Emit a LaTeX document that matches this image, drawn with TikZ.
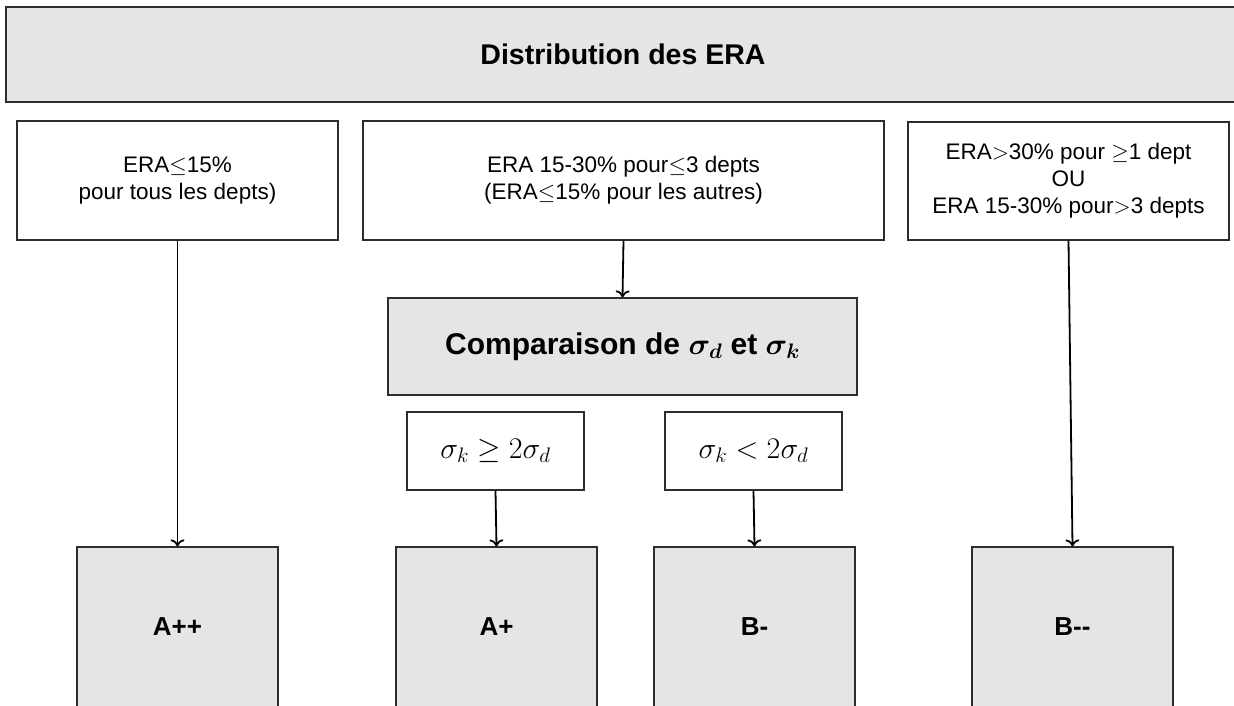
\RequirePackage{fix-cm}
\documentclass[tikz,border=0pt]{standalone}
\usepackage[no-math]{fontspec}
\setmainfont{Liberation Sans}
\usepackage{bm}
\usetikzlibrary{arrows.meta}
\definecolor{boxgray}{RGB}{229,229,229}
\definecolor{edgegray}{RGB}{45,45,45}
\tikzset{
  box/.style={draw=edgegray, line width=1.2pt, inner sep=0pt, align=center,
    font=\fontsize{22.5}{27}\selectfont},
  graybox/.style={box, fill=boxgray, font=\fontsize{26}{30}\selectfont\bfseries},
  condbox/.style={box, minimum width=177pt, minimum height=78pt, font=\fontsize{30}{34}\selectfont},
  gradebox/.style={graybox, minimum width=201pt, minimum height=160pt},
  conn/.style={line width=1.8pt, -{To[length=7pt,width=14pt]}}
}
\begin{document}
\begin{tikzpicture}[x=1pt,y=-1pt]
\useasboundingbox (0,0) rectangle (1234,706);
\fill[white] (0,0) rectangle (1234,706);
\clip (0,0) rectangle (1234,706);
\node[graybox, minimum width=1234pt, minimum height=95pt, font=\fontsize{28.5}{32}\selectfont\bfseries] (title) at (623,54.5) {Distribution des ERA};
\node[box, minimum width=321pt, minimum height=119pt] (b1) at (177.5,180.5) {ERA$\leq$15\%\\pour tous les depts)};
\node[box, minimum width=521pt, minimum height=119pt] (b2) at (623.5,180.5) {ERA 15-30\% pour$\leq$3 depts\\(ERA$\leq$15\% pour les autres)};
\node[box, minimum width=321pt, minimum height=118pt] (b3) at (1068.5,181) {ERA$>$30\% pour $\geq$1 dept\\OU\\ERA 15-30\% pour$>$3 depts};
\node[graybox, minimum width=469pt, minimum height=97pt, font=\fontsize{30}{34}\selectfont\bfseries] (comp) at (622.5,346.5) {Comparaison de $\bm{\sigma_d}$ et $\bm{\sigma_k}$};
\node[condbox] (c1) at (495.5,451) {$\sigma_k \geq 2\sigma_d$};
\node[condbox] (c2) at (753.5,451) {$\sigma_k < 2\sigma_d$};
\node[gradebox] (app) at (177.5,627) {A++};
\node[gradebox] (ap) at (496.5,627) {A+};
\node[gradebox] (bm) at (754.5,627) {B-};
\node[gradebox] (bmm) at (1072.5,627) {B-{}-};
\draw[conn] (b1.south) -- (app.north);
\draw[conn] (b2.south) -- (comp.north);
\draw[conn] (b3.south) -- (bmm.north);
\draw[conn] (c1.south) -- (ap.north);
\draw[conn] (c2.south) -- (bm.north);
\end{tikzpicture}
\end{document}
